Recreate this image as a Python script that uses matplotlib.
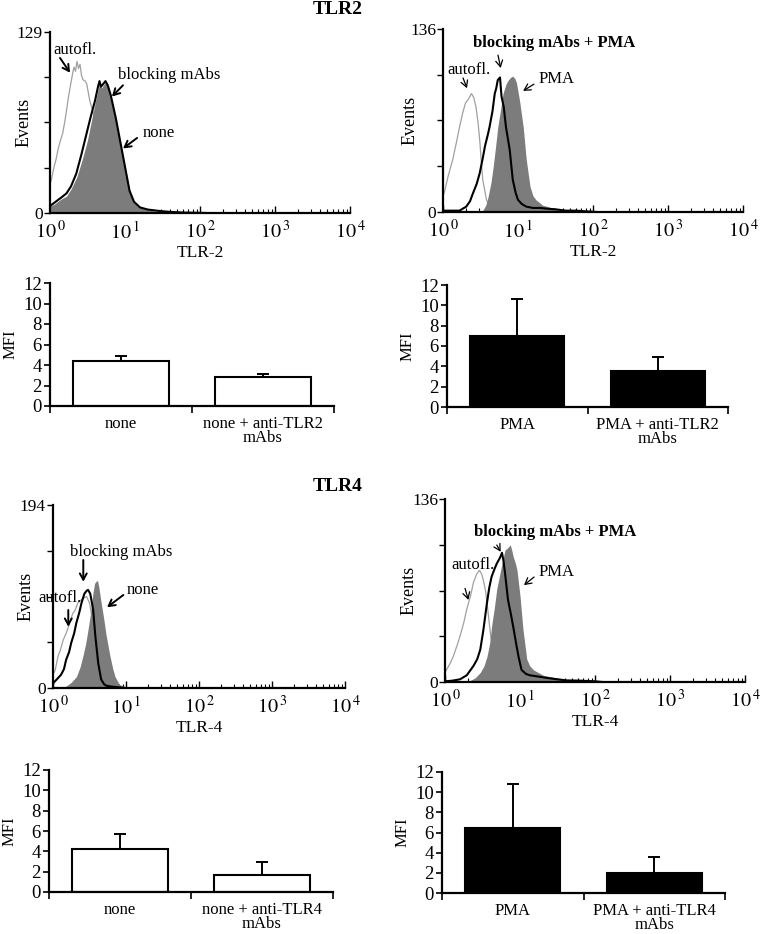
import numpy as np
import matplotlib
matplotlib.use('Agg')
import matplotlib.pyplot as plt
from matplotlib.ticker import LogLocator, NullFormatter

plt.rcParams['font.family'] = 'Liberation Serif'
plt.rcParams['mathtext.fontset'] = 'stix'

# ---------------- flow histograms (log10 fluorescence, events) ----------------
# TLR2, no stimulus
a_auto_lx = [0.0, 0.02, 0.05, 0.08, 0.11, 0.13, 0.17, 0.2, 0.22, 0.25, 0.27, 0.3, 0.32, 0.34, 0.36, 0.38, 0.4, 0.42, 0.44, 0.47, 0.49, 0.53, 0.58, 0.65, 0.75, 0.85, 1.0]
a_auto_y = [20, 24, 32, 38, 46, 50, 57, 66, 73, 84, 90, 99, 104, 101, 108, 103, 106, 98, 95, 94, 92, 80, 71, 55, 35, 15, 0]
a_none_lx = [0.0, 0.05, 0.1, 0.15, 0.22, 0.28, 0.36, 0.44, 0.5, 0.55, 0.6, 0.64, 0.66, 0.69, 0.71, 0.74, 0.76, 0.8, 0.87, 0.93, 1.0, 1.07, 1.12, 1.16, 1.25, 1.33, 1.45, 1.56, 1.7, 2.0]
a_none_y = [5, 6, 8, 10, 12, 17, 26, 40, 52, 65, 78, 88, 92, 89, 91, 93, 92, 85, 69, 52, 33, 14, 8, 5, 3, 2, 1, 0.5, 0.3, 0]
a_block_lx = [0.0, 0.05, 0.1, 0.15, 0.22, 0.28, 0.35, 0.42, 0.48, 0.54, 0.6, 0.64, 0.66, 0.68, 0.71, 0.74, 0.77, 0.81, 0.88, 0.94, 1.0, 1.06, 1.12, 1.2, 1.3, 1.45, 1.6, 1.8, 2.1]
a_block_y = [5, 7, 9, 11, 14, 19, 28, 42, 55, 68, 80, 90, 94, 90, 92, 94, 91, 84, 67, 50, 33, 16, 8, 4, 2.5, 1.5, 0.8, 0.3, 0]

# TLR2, PMA
b_auto_lx = [0.0, 0.02, 0.07, 0.13, 0.18, 0.22, 0.26, 0.3, 0.34, 0.38, 0.41, 0.44, 0.47, 0.49, 0.51, 0.53, 0.58, 0.62, 0.67, 0.75]
b_auto_y = [12, 15, 27, 39, 52, 63, 73, 81, 84, 88, 85, 78, 65, 53, 38, 24, 9, 4, 1, 0]
b_pma_lx = [0.5, 0.53, 0.57, 0.6, 0.64, 0.67, 0.7, 0.73, 0.77, 0.8, 0.84, 0.87, 0.9, 0.93, 0.96, 0.98, 1.02, 1.07, 1.11, 1.16, 1.2, 1.24, 1.33, 1.4, 1.47, 1.56, 1.64, 1.75]
b_pma_y = [0, 1, 5, 11, 22, 34, 48, 63, 77, 88, 95, 98, 100, 101, 99, 96, 83, 63, 39, 19, 12, 9, 5, 4, 2.5, 1.5, 0.7, 0]
b_block_lx = [0.0, 0.1, 0.22, 0.31, 0.36, 0.4, 0.45, 0.49, 0.53, 0.56, 0.6, 0.62, 0.66, 0.69, 0.71, 0.73, 0.76, 0.78, 0.81, 0.84, 0.89, 0.93, 0.97, 1.0, 1.05, 1.11, 1.2, 1.3, 1.38, 1.5, 1.64, 1.78, 1.9, 2.05]
b_block_y = [1, 1, 1, 4, 8, 14, 21, 29, 40, 49, 58, 63, 75, 88, 92, 98, 100, 86, 78, 63, 46, 24, 14, 9, 6, 4, 3, 3, 2.5, 2, 1, 1, 0.5, 0]

# TLR4, no stimulus
c_auto_lx = [0.0, 0.03, 0.07, 0.1, 0.14, 0.18, 0.23, 0.27, 0.3, 0.34, 0.38, 0.41, 0.46, 0.5, 0.55, 0.59, 0.64, 0.7, 0.8]
c_auto_y = [14, 19, 34, 40, 51, 58, 69, 79, 82, 90, 93, 95, 97, 90, 69, 34, 12, 3, 0]
c_none_lx = [0.1, 0.18, 0.25, 0.32, 0.37, 0.41, 0.45, 0.48, 0.51, 0.53, 0.55, 0.57, 0.59, 0.61, 0.63, 0.66, 0.69, 0.73, 0.78, 0.82, 0.85, 0.91, 1.0, 1.1]
c_none_y = [0, 2, 6, 12, 22, 34, 48, 62, 77, 90, 102, 111, 113, 114, 106, 90, 76, 55, 34, 20, 12, 3.5, 1, 0]
c_block_lx = [0.0, 0.05, 0.11, 0.15, 0.18, 0.22, 0.25, 0.29, 0.32, 0.36, 0.39, 0.43, 0.46, 0.48, 0.51, 0.55, 0.58, 0.62, 0.66, 0.7, 0.73, 0.8, 0.87, 1.0]
c_block_y = [5, 9, 14, 20, 30, 38, 48, 58, 69, 80, 90, 100, 103, 104, 100, 83, 55, 26, 9, 4, 2.5, 1.5, 1, 0]

# TLR4, PMA
d_auto_lx = [0.0, 0.02, 0.07, 0.11, 0.16, 0.2, 0.25, 0.29, 0.34, 0.38, 0.42, 0.46, 0.49, 0.51, 0.54, 0.56, 0.6, 0.64, 0.69, 0.78, 0.9]
d_auto_y = [7, 9, 14, 19, 27, 34, 44, 54, 64, 74, 80, 83, 80, 76, 68, 59, 39, 19, 7, 2, 0]
d_pma_lx = [0.3, 0.33, 0.4, 0.47, 0.52, 0.56, 0.6, 0.62, 0.66, 0.69, 0.73, 0.76, 0.8, 0.84, 0.87, 0.89, 0.91, 0.94, 0.96, 1.0, 1.04, 1.09, 1.13, 1.18, 1.31, 1.4, 1.49, 1.6, 1.71, 1.85, 2.0, 2.05]
d_pma_y = [0, 1, 3, 7, 12, 19, 30, 41, 56, 69, 80, 88, 98, 100, 102, 98, 93, 88, 83, 64, 39, 17, 12, 9, 5, 4, 3, 2, 1, 0.7, 0.3, 0]
d_block_lx = [0.0, 0.1, 0.2, 0.29, 0.38, 0.43, 0.47, 0.51, 0.56, 0.59, 0.62, 0.66, 0.69, 0.73, 0.76, 0.78, 0.8, 0.84, 0.88, 0.91, 0.95, 0.98, 1.02, 1.08, 1.13, 1.25, 1.36, 1.5, 1.62, 1.8, 2.0, 2.1]
d_block_y = [0.5, 1, 2, 5, 12, 17, 24, 38, 59, 70, 78, 84, 88, 92, 96, 90, 81, 61, 50, 41, 28, 19, 9, 6, 5, 4, 3, 2, 1.2, 1, 0.5, 0]

# ---------------- MFI bar charts ----------------
tlr2_none_labels = ['none', 'none + anti-TLR2\nmAbs']
tlr2_none_mfi = [4.39, 2.86]
tlr2_none_err = [0.46, 0.30]
tlr2_pma_labels = ['PMA', 'PMA + anti-TLR2\nmAbs']
tlr2_pma_mfi = [6.98, 3.57]
tlr2_pma_err = [3.64, 1.32]
tlr4_none_labels = ['none', 'none + anti-TLR4\nmAbs']
tlr4_none_mfi = [4.26, 1.71]
tlr4_none_err = [1.45, 1.27]
tlr4_pma_labels = ['PMA', 'PMA + anti-TLR4\nmAbs']
tlr4_pma_mfi = [6.49, 2.03]
tlr4_pma_err = [4.33, 1.58]

W, H = 761, 934
fig = plt.figure(figsize=(W / 100, H / 100), dpi=100)


def box(l, t, r, b):
    return [l / W, 1 - b / H, (r - l) / W, (b - t) / H]


def flow_panel(rect, auto, filled, block, ymax, xlabel, ylab_x):
    ax = fig.add_axes(rect)
    ax.plot(10 ** np.array(auto[0]), auto[1], color='#a0a0a0', lw=0.9, zorder=1)
    ax.fill_between(10 ** np.array(filled[0]), filled[1], color='#7c7c7c', lw=0, zorder=2)
    ax.plot(10 ** np.array(block[0]), block[1], color='black', lw=1.5, zorder=3)
    ax.set_xscale('log')
    ax.set_xlim(1, 1e4)
    ax.set_ylim(0, ymax)
    for s in ['top', 'right']:
        ax.spines[s].set_visible(False)
    for s in ['left', 'bottom']:
        ax.spines[s].set_linewidth(1.6)
    ax.set_xticks([1, 10, 100, 1000, 10000],
                  labels=[r'$10^{\,%d}$' % i for i in range(5)])
    ax.xaxis.set_minor_locator(LogLocator(base=10, subs=np.arange(2, 10), numticks=100))
    ax.xaxis.set_minor_formatter(NullFormatter())
    ax.tick_params(axis='x', which='major', direction='in', length=5, width=1, labelsize=14.5, pad=6)
    ax.tick_params(axis='x', which='minor', direction='in', length=3, width=0.8)
    ax.set_yticks(np.linspace(0, ymax, 5), labels=['0', '', '', '', str(ymax)])
    ax.tick_params(axis='y', direction='out', length=4, width=1, labelsize=12.5, pad=1)
    for t in ax.get_yticklabels():
        t.set_verticalalignment('center_baseline')
    ax.set_ylabel('Events', fontsize=13)
    ax.yaxis.set_label_coords(ylab_x, 0.5)
    ax.set_xlabel(xlabel, fontsize=12.5, labelpad=1)
    return ax


def note(ax, text, txy, tail, head, bold=False, thick=True):
    ax.text(txy[0], txy[1], text, fontsize=12, ha='left', va='center',
            fontweight='bold' if bold else 'normal', zorder=5)
    ax.annotate('', xy=head, xytext=tail,
                arrowprops=dict(arrowstyle='->,head_length=0.45,head_width=0.25',
                                lw=1.4 if thick else 0.9, color='black',
                                shrinkA=0, shrinkB=0), zorder=5)


def bar_panel(rect, labels, vals, errs, color):
    ax = fig.add_axes(rect)
    pos = np.array([0.5, 1.5])
    ax.bar(pos, vals, width=0.67, color=color, edgecolor='black', lw=1.5, zorder=2)
    ax.errorbar(pos, vals, yerr=[[0, 0], errs], fmt='none', ecolor='black',
                elinewidth=1.4, capsize=4, capthick=1.4, zorder=1)
    ax.set_xlim(0, 2)
    ax.set_ylim(0, 12)
    for s in ['top', 'right']:
        ax.spines[s].set_visible(False)
    for s in ['left', 'bottom']:
        ax.spines[s].set_linewidth(1.6)
    ax.set_yticks(range(0, 13, 2))
    ax.tick_params(axis='y', direction='out', length=4, width=1.2, labelsize=13.5, pad=2)
    ax.set_xticks([0, 1, 2], minor=True)
    ax.set_xticks(pos, labels=labels)
    ax.tick_params(axis='x', which='major', length=0, labelsize=12, pad=7)
    ax.tick_params(axis='x', which='minor', direction='out', length=5, width=1.2)
    for t in ax.get_xticklabels():
        t.set_linespacing(0.88)
    ax.set_ylabel('MFI', fontsize=12, labelpad=3)
    return ax


# histograms
ax = flow_panel(box(50, 32, 350, 213), (a_auto_lx, a_auto_y), (a_none_lx, a_none_y),
                (a_block_lx, a_block_y), 129, 'TLR-2', -0.057)
note(ax, 'autofl.', (1.1, 116), (1.36, 110.5), (1.85, 100))
note(ax, 'blocking mAbs', (8.07, 98), (9.4, 91), (6.7, 83))
note(ax, 'none', (17.4, 57), (14.5, 53.5), (9.4, 46))

ax = flow_panel(box(443, 29, 743, 212), (b_auto_lx, b_auto_y), (b_pma_lx, b_pma_y),
                (b_block_lx, b_block_y), 136, 'TLR-2', -0.083)
note(ax, 'blocking mAbs + PMA', (2.51, 125.5), (5.41, 116.6), (5.88, 107), bold=True, thick=False)
note(ax, 'autofl.', (1.13, 105.5), (1.85, 99.6), (2.09, 92), thick=False)
note(ax, 'PMA', (18.5, 99), (16.3, 95), (11.7, 90), thick=False)

ax = flow_panel(box(53, 505, 345, 688), (c_auto_lx, c_auto_y), (c_none_lx, c_none_y),
                (c_block_lx, c_block_y), 194, 'TLR-4', -0.062)
note(ax, 'blocking mAbs', (1.71, 144), (2.6, 135.7), (2.6, 112.7))
note(ax, 'autofl.', (0.64, 95), (1.62, 82.7), (1.62, 65))
note(ax, 'none', (10.3, 104), (9.2, 98.6), (5.5, 85.6))

ax = flow_panel(box(445, 499, 745, 682), (d_auto_lx, d_auto_y), (d_pma_lx, d_pma_y),
                (d_block_lx, d_block_y), 136, 'TLR-4', -0.09)
note(ax, 'blocking mAbs + PMA', (2.44, 111.7), (4.9, 101.8), (5.53, 96.8), bold=True, thick=False)
note(ax, 'autofl.', (1.23, 87), (1.85, 69.6), (2.05, 61), thick=False)
note(ax, 'PMA', (17.4, 82), (15.4, 78), (11.3, 72), thick=False)

# bar charts
bar_panel(box(50, 283, 334, 406), tlr2_none_labels, tlr2_none_mfi, tlr2_none_err, 'white')
bar_panel(box(447, 285, 728, 407), tlr2_pma_labels, tlr2_pma_mfi, tlr2_pma_err, 'black')
bar_panel(box(49, 770, 333, 892), tlr4_none_labels, tlr4_none_mfi, tlr4_none_err, 'white')
bar_panel(box(442, 772, 725, 893), tlr4_pma_labels, tlr4_pma_mfi, tlr4_pma_err, 'black')

fig.text(338 / W, 1 - 10 / H, 'TLR2', fontsize=14, fontweight='bold', ha='center', va='center')
fig.text(338 / W, 1 - 486 / H, 'TLR4', fontsize=14, fontweight='bold', ha='center', va='center')

fig.savefig('out.png', dpi=100)
